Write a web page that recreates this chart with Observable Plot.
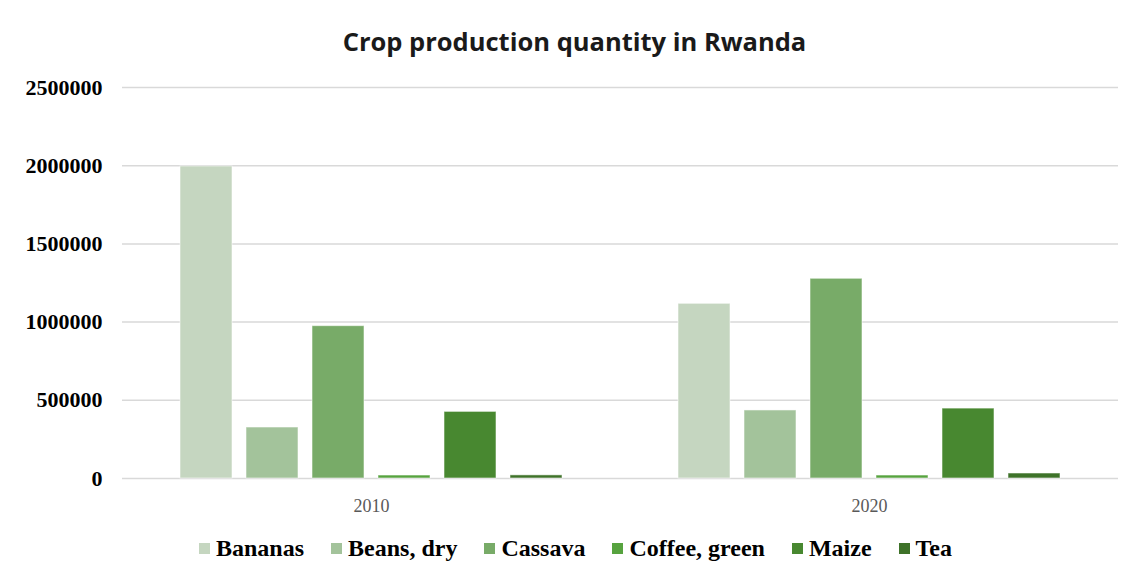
<!DOCTYPE html>
<html>
<head>
<meta charset="utf-8">
<script src="https://cdn.jsdelivr.net/npm/d3@7"></script>
<script src="https://cdn.jsdelivr.net/npm/@observablehq/plot@0.6"></script>
<style>
  html, body { margin: 0; padding: 0; background: #fff; }
  #wrap { width: 1133px; height: 575px; position: relative; overflow: hidden; }
  #title { height: 70px; box-sizing: border-box; padding-top: 24px; text-align: center;
           font-family: "Open Sans", sans-serif; font-weight: 700; font-size: 25.5px; color: #1a1a1a; line-height: 34px; padding-left: 16px; }
  #chart svg { display: block; }
  #chart g[aria-label="y-axis tick label"] text { font-family: "Liberation Serif", serif; font-weight: 700; font-size: 22px; fill: #000; }
  #chart g[aria-label="fx-axis tick label"] text { font-family: "Liberation Serif", serif; font-size: 18px; fill: #595959; }
  #legend { display: flex; justify-content: center; align-items: center; gap: 27px; margin-top: 10px;
            padding-left: 18px; font-family: "Liberation Serif", serif; font-weight: 700; font-size: 24px; color: #000; }
  #legend .item { display: flex; align-items: center; gap: 6px; }
  #legend .sw { width: 11px; height: 11px; display: inline-block; }
</style>
</head>
<body>
<div id="wrap">
  <div id="title">Crop production quantity in Rwanda</div>
  <div id="chart"></div>
  <div id="legend"></div>
</div>
<script>
const crops = ["Bananas", "Beans, dry", "Cassava", "Coffee, green", "Maize", "Tea"];
const years = ["2010", "2020"];
const prod2010 = [1995000, 326000, 974000, 19000, 426000, 20000];
const prod2020 = [1117000, 435000, 1277000, 19000, 447000, 32000];
const colors = ["#c5d6c0", "#a3c39b", "#78ab68", "#57a33f", "#488830", "#3e7229"];
const yTicks = [0, 500000, 1000000, 1500000, 2000000, 2500000];

const data = [];
crops.forEach((c, i) => data.push({year: years[0], crop: c, value: prod2010[i]}));
crops.forEach((c, i) => data.push({year: years[1], crop: c, value: prod2020[i]}));

const chart = Plot.plot({
  width: 1133,
  height: 455,
  marginTop: 17,
  marginBottom: 47,
  marginLeft: 122,
  marginRight: 15,
  fx: {domain: years, padding: 0, label: null},
  x: {domain: crops, paddingInner: 0.218, paddingOuter: 0.854, axis: null},
  y: {domain: [0, 2500000], label: null},
  color: {domain: crops, range: colors},
  marks: [
    Plot.gridY(yTicks, {stroke: "#d9d9d9", strokeOpacity: 1, strokeWidth: 1.5}),
    Plot.axisY(yTicks, {tickSize: 0, tickPadding: 20, tickFormat: d => String(d), label: null}),
    Plot.axisFx({anchor: "bottom", tickSize: 0, tickPadding: 21, label: null}),
    Plot.barY(data, {fx: "year", x: "crop", y: "value", fill: "crop", stroke: "#ffffff", strokeOpacity: 0.55, strokeWidth: 1})
  ]
});
document.getElementById("chart").appendChild(chart);

const legend = document.getElementById("legend");
crops.forEach((c, i) => {
  const item = document.createElement("div");
  item.className = "item";
  const sw = document.createElement("span");
  sw.className = "sw";
  sw.style.background = colors[i];
  const label = document.createElement("span");
  label.textContent = c;
  item.appendChild(sw);
  item.appendChild(label);
  legend.appendChild(item);
});
</script>
</body>
</html>
